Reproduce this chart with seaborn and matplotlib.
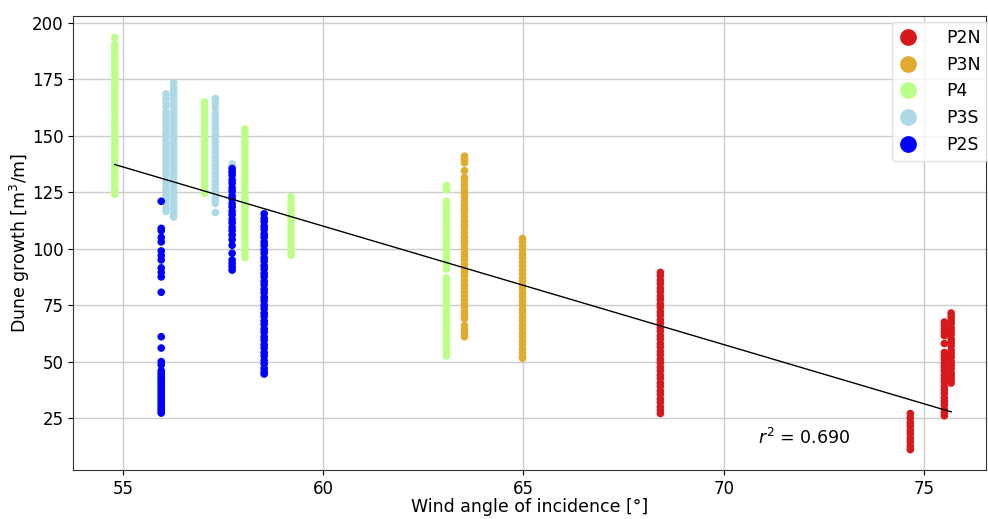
import numpy as np
import pandas as pd
import matplotlib
matplotlib.use("Agg")
import matplotlib.pyplot as plt
import seaborn as sns

# Wind angle of incidence [deg] per measurement column, and dune growth [m3/m] at each
p2n_angle = [68.42, 74.66, 75.51, 75.68]
p2n_growth = [
    [89.5, 88, 86, 84.5, 82.5, 81, 79, 77.5, 75.5, 74, 72, 70.5, 68.5, 67, 65, 63.5, 61.5, 60, 58,
     56.5, 54.5, 53, 51, 49.5, 47.5, 46, 44, 42.5, 40.5, 39, 37, 35.5, 33.5, 32, 30, 28.5, 27],
    [27, 25, 23, 21.5, 19.5, 18, 16, 14.5, 12.5, 11],
    [67.5, 66, 64.5, 63, 61.5, 58, 54, 52.5, 51, 49, 47.5, 46, 44, 42.5, 41, 39, 37.5, 36, 34,
     32.5, 31, 29, 27.5, 26],
    [71.5, 70, 68.5, 67, 65, 63.5, 62, 60, 58.5, 57, 55, 53.5, 52, 50, 48.5, 47, 45, 43.5, 42, 40.5],
]

p3n_angle = [63.53, 64.98]
p3n_growth = [
    [141, 139.5, 138, 134.5, 131.5, 130, 128, 126, 124.5, 123, 121, 119, 117.5, 116, 114, 112,
     110.5, 109, 107, 105, 103.5, 102, 100, 98, 96.5, 95, 93, 91, 89.5, 88, 86, 84, 82.5, 81, 79,
     77, 75.5, 74, 72, 70.5, 69, 66, 64, 62.5, 61],
    [104.5, 103, 101, 99.5, 97.5, 96, 94, 92.5, 90.5, 89, 87, 85.5, 83.5, 82, 80, 78.5, 76.5, 75,
     73, 71.5, 69.5, 68, 66, 64.5, 62.5, 61, 59, 57.5, 55.5, 54, 52, 51.5],
]

p4_angle = [54.80, 57.04, 58.05, 59.20, 63.08]
p4_growth = [
    [193.5, 190.5, 189, 187.5, 185.5, 184, 182, 180.5, 178.5, 177, 175, 173, 171.5, 169.5, 168,
     166, 164.5, 162.5, 161, 159, 157, 155.5, 153.5, 152, 150, 148.5, 146.5, 145, 143, 141, 139.5,
     137.5, 136, 134, 132.5, 130.5, 129, 127, 125.5, 124],
    [165, 163, 161.5, 159.5, 158, 156, 154.5, 152.5, 151, 149, 147.5, 145.5, 144, 142, 140.5,
     138.5, 137, 135, 133.5, 131.5, 130, 128, 126, 124.5],
    [153, 151, 149.5, 147.5, 146, 144, 142.5, 140.5, 139, 137, 135.5, 133.5, 132, 130, 128.5,
     126.5, 125, 123, 121.5, 119.5, 118, 116, 114.5, 112.5, 111, 109, 107.5, 105.5, 104, 102, 100,
     98, 96],
    [123, 121, 119.5, 117.5, 116, 114, 112.5, 110.5, 109, 107, 105.5, 103.5, 102, 100, 98.5, 97],
    [128, 126, 121, 119.5, 117.5, 116, 114, 112.5, 110.5, 109, 107, 105.5, 103.5, 102, 100, 98.5,
     96.5, 95, 93, 91, 87, 85.5, 83.5, 82, 80, 78.5, 76.5, 75, 73, 71.5, 69.5, 68, 66, 64.5, 62.5,
     61, 59, 57.5, 55.5, 54, 52.5],
]

p3s_angle = [56.08, 56.27, 57.31, 57.73]
p3s_growth = [
    [168.5, 166.5, 164.5, 163, 160.5, 158.5, 157, 155, 153.5, 151.5, 150, 148, 146.5, 144.5, 143,
     141, 139.5, 137.5, 136, 134, 132.5, 130.5, 129, 127, 125.5, 123.5, 122, 120, 118, 116.5],
    [173.5, 171.5, 170, 168, 166.5, 164.5, 163, 161, 159.5, 157.5, 156, 154, 152.5, 150.5, 149,
     147, 145.5, 143.5, 142, 140, 138.5, 136.5, 135, 133, 131.5, 129.5, 128, 126, 124.5, 122.5,
     121, 119, 117.5, 115.5, 114],
    [166.5, 164.5, 162.5, 160, 158, 156.5, 154.5, 153, 151, 149.5, 147.5, 146, 144, 142.5, 140.5,
     139, 137, 135.5, 133.5, 132, 130, 128.5, 126.5, 125, 123, 121.5, 120, 116],
    [137.5, 136, 134.5],
]

p2s_angle = [55.96, 57.73, 58.53]
p2s_growth = [
    [121, 109, 108, 105, 103, 99, 97, 95, 91.5, 89.5, 87.5, 80.7, 61, 56, 50, 48.5, 46, 45, 44,
     43, 42, 41, 40, 39, 38, 37, 36, 35, 34, 33, 32, 31, 30, 29, 28, 27.2],
    [135.5, 134, 132.5, 130.5, 129, 127, 125.5, 123.5, 122, 120, 118.5, 116.5, 115, 113, 111.5,
     109.5, 108, 106, 104, 101.5, 98, 95, 93.5, 92, 90.5],
    [115.5, 113.5, 112, 110, 108.5, 106.5, 105, 103, 101.5, 99.5, 98, 96, 94.5, 92.5, 91, 89,
     87.5, 85.5, 84, 82, 80.5, 78.5, 77, 75, 73.5, 71.5, 70, 68, 66.5, 64.5, 63, 61, 59.5, 57.5,
     56, 54, 52.5, 50.5, 49, 47, 45.5, 44.5],
]

series = ["P2N", "P3N", "P4", "P3S", "P2S"]
colors = ["#d7191c", "#e0ac30", "#bbff88", "#add8e6", "#0000ff"]

# Linear fit of growth against angle over the full data set
fit_slope = -5.245
fit_intercept = 424.7
r_squared = 0.690

rows = []
for name, angles, growths in [
    ("P2N", p2n_angle, p2n_growth),
    ("P3N", p3n_angle, p3n_growth),
    ("P4", p4_angle, p4_growth),
    ("P3S", p3s_angle, p3s_growth),
    ("P2S", p2s_angle, p2s_growth),
]:
    for a, gs in zip(angles, growths):
        for g in gs:
            rows.append((name, a, g))
df = pd.DataFrame(rows, columns=["profile", "angle", "growth"])

fig = plt.figure(figsize=(9.88, 5.19), dpi=100)
ax = fig.add_axes([0.074, 0.094, 0.924, 0.875])

sns.scatterplot(data=df, x="angle", y="growth", hue="profile", hue_order=series,
                palette=dict(zip(series, colors)), s=30, linewidth=0, ax=ax, zorder=2)

fit_x = np.array([df["angle"].min(), df["angle"].max()])
ax.plot(fit_x, fit_intercept + fit_slope * fit_x, color="black", lw=1, zorder=3)

ax.set_xlim(53.76, 76.55)
ax.set_ylim(1.9, 203)
ax.set_xticks([55, 60, 65, 70, 75])
ax.set_yticks([25, 50, 75, 100, 125, 150, 175, 200])
ax.grid(True, color="#cccccc", lw=1, zorder=0)
ax.set_axisbelow(True)
ax.tick_params(labelsize=12)
for sp in ax.spines.values():
    sp.set_color("#333333")
ax.set_xlabel("Wind angle of incidence [°]", fontsize=12.5, labelpad=0)
ax.set_ylabel("Dune growth [m$^3$/m]", fontsize=12.5, labelpad=0)

ax.text(70.85, 13.5, f"$r^2$ = {r_squared:.3f}", fontsize=12.5)

leg = ax.legend(loc="upper right", bbox_to_anchor=(1.002, 0.987), borderaxespad=0,
                fontsize=12.5, markerscale=2.2, labelspacing=0.5, handlelength=1.0,
                handletextpad=1.7)
leg.get_frame().set_edgecolor("#dddddd")

fig.savefig("out.png", dpi=100)
